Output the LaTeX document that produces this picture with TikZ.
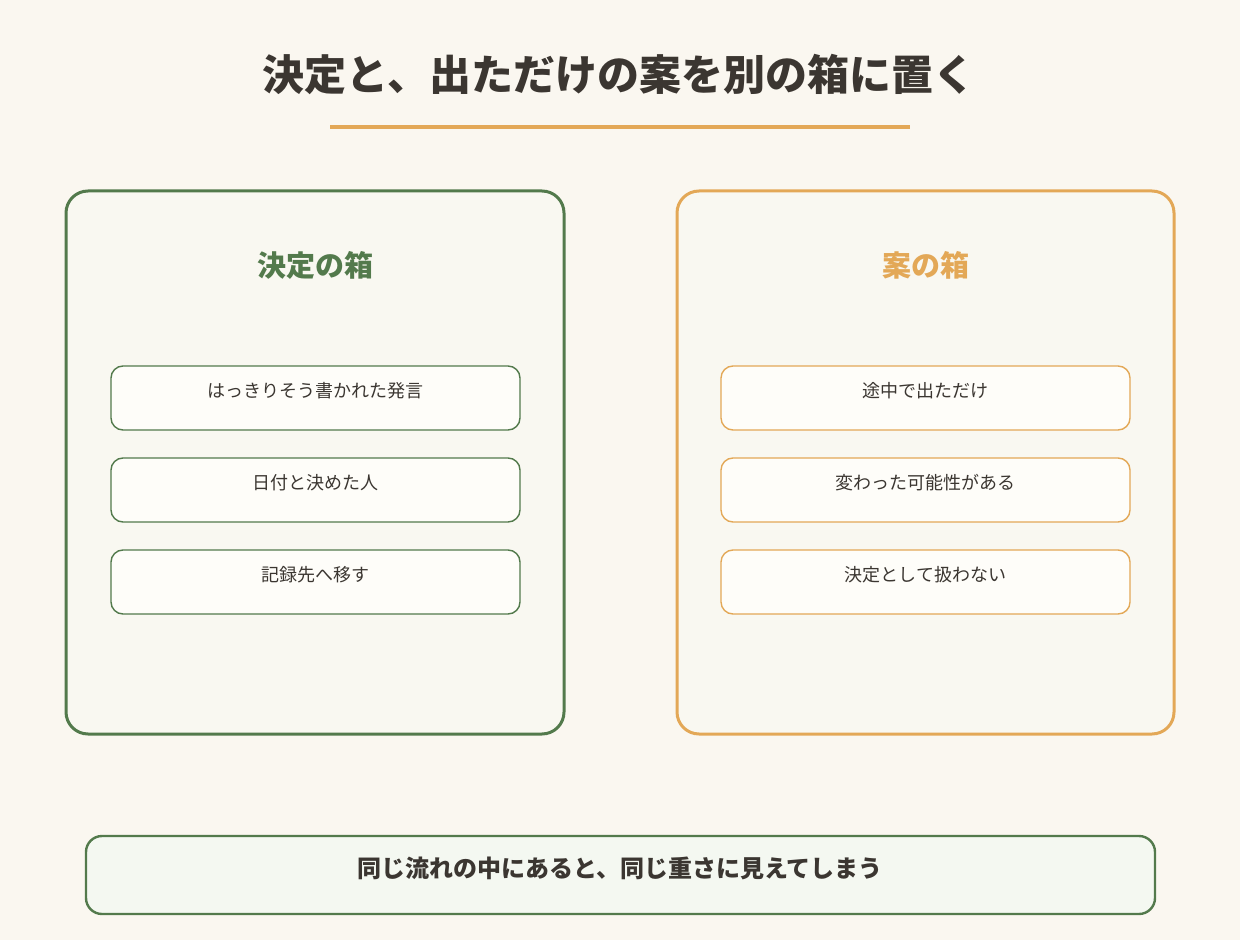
\documentclass[tikz,border=0pt]{standalone}
\usepackage{fontspec}
\setmainfont{Noto Sans CJK JP}
\definecolor{bg}{HTML}{FAF7F0}
\definecolor{leaf}{HTML}{537A4C}
\definecolor{amber}{HTML}{E3A857}
\definecolor{ink}{HTML}{3B3631}
\definecolor{boxfill}{HTML}{F9F8F1}
\definecolor{itemfill}{HTML}{FEFDF9}
\definecolor{notefill}{HTML}{F4F8F1}
\tikzset{
  bigbox/.style={line width=1.5pt, rounded corners=11pt, fill=boxfill},
  itembox/.style={line width=0.7pt, rounded corners=6pt, fill=itemfill},
  itemtext/.style={text=ink, font=\fontsize{9}{10}\selectfont},
  headtext/.style={font=\bfseries\fontsize{14.5}{16}\selectfont}
}
\begin{document}
\begin{tikzpicture}[x=0.5pt,y=-0.5pt]
  \fill[bg] (0,0) rectangle (1240,940);
  \useasboundingbox (0,0) rectangle (1240,940);
  % title
  \node[text=ink, font=\bfseries\fontsize{21}{24}\selectfont] (title) at (619,75) {決定と、出ただけの案を別の箱に置く};
  \draw[amber, line width=2pt] (330,127) -- (910,127);
  % left box
  \draw[bigbox, draw=leaf] (66,191) rectangle (564,734);
  \node[headtext, text=leaf] (dhead) at (315,265) {決定の箱};
  \draw[itembox, draw=leaf] (111,366) rectangle (520,430);
  \draw[itembox, draw=leaf] (111,458) rectangle (520,522);
  \draw[itembox, draw=leaf] (111,550) rectangle (520,614);
  \node[itemtext] (d1) at (315.5,391) {はっきりそう書かれた発言};
  \node[itemtext] (d2) at (315.5,483) {日付と決めた人};
  \node[itemtext] (d3) at (315.5,575) {記録先へ移す};
  % right box
  \draw[bigbox, draw=amber] (677,191) rectangle (1174,734);
  \node[headtext, text=amber] (ahead) at (925.5,265) {案の箱};
  \draw[itembox, draw=amber] (721,366) rectangle (1130,430);
  \draw[itembox, draw=amber] (721,458) rectangle (1130,522);
  \draw[itembox, draw=amber] (721,550) rectangle (1130,614);
  \node[itemtext] (a1) at (925.5,391) {途中で出ただけ};
  \node[itemtext] (a2) at (925.5,483) {変わった可能性がある};
  \node[itemtext] (a3) at (925.5,575) {決定として扱わない};
  % note at the bottom
  \draw[line width=1.2pt, rounded corners=8pt, draw=leaf, fill=notefill] (86,836) rectangle (1155,914);
  \node[text=ink, font=\bfseries\fontsize{12}{14}\selectfont] (note) at (620,868) {同じ流れの中にあると、同じ重さに見えてしまう};
\end{tikzpicture}
\end{document}
